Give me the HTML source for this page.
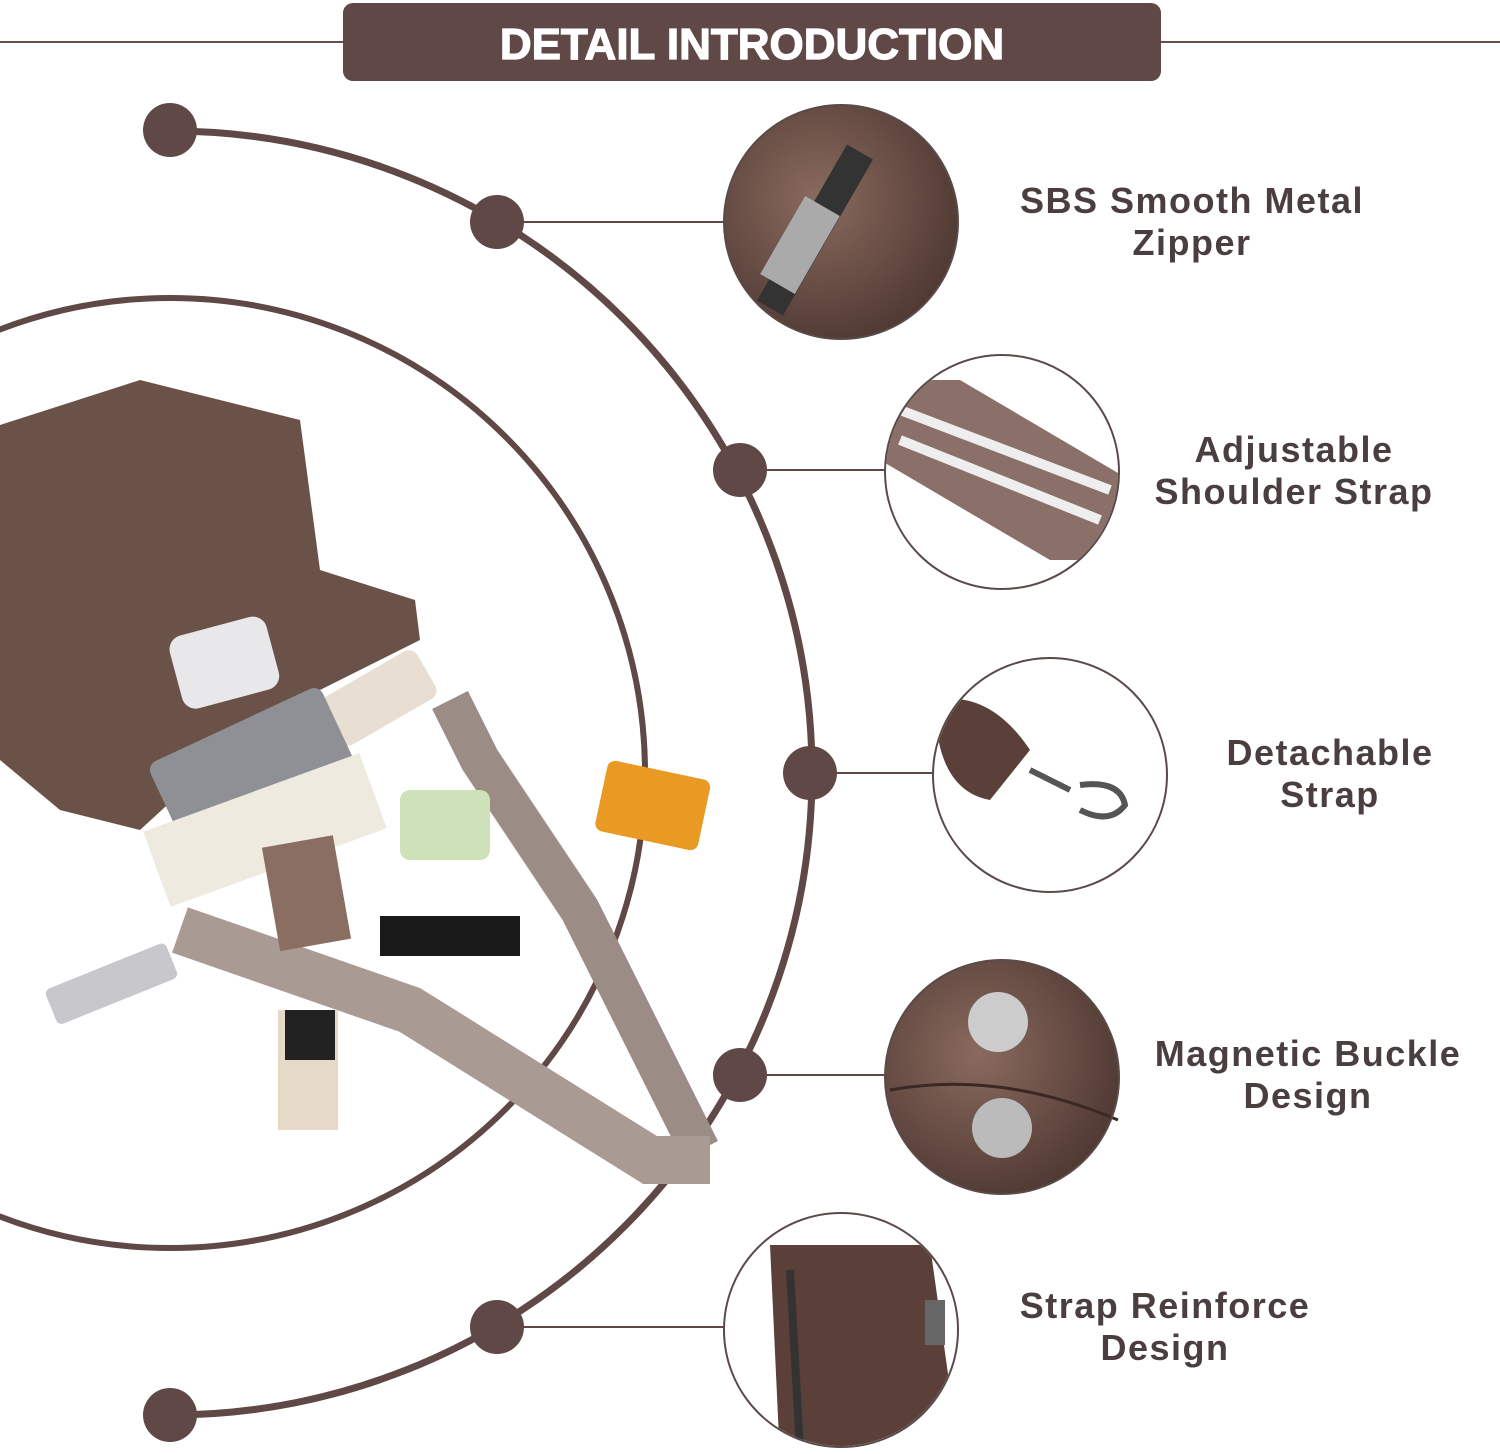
<!DOCTYPE html>
<html><head><meta charset="utf-8"><style>
body{margin:0;width:1500px;height:1454px;background:#fff;overflow:hidden;position:relative;font-family:"Liberation Sans",sans-serif}
.lbl{position:absolute;color:#4a3f3e;font-size:36px;font-weight:bold;letter-spacing:1.5px;text-align:center;line-height:42px;width:420px}
</style></head><body>
<svg width="1500" height="1454" style="position:absolute;left:0;top:0">
<defs>
<radialGradient id="br" cx="40%" cy="40%" r="70%"><stop offset="0" stop-color="#8a6a5e"/><stop offset="1" stop-color="#4a352f"/></radialGradient>
<clipPath id="c1"><circle cx="841" cy="222" r="116"/></clipPath>
<clipPath id="c2"><circle cx="1002" cy="472" r="116"/></clipPath>
<clipPath id="c3"><circle cx="1050" cy="775" r="116"/></clipPath>
<clipPath id="c5"><circle cx="841" cy="1330" r="116"/></clipPath>
</defs>
<line x1="0" y1="42" x2="343" y2="42" stroke="#6a504c" stroke-width="2"/>
<line x1="1160" y1="42" x2="1500" y2="42" stroke="#6a504c" stroke-width="2"/>
<rect x="343" y="3" width="818" height="78" rx="10" fill="#5f4845"/>
<text x="752" y="59" text-anchor="middle" fill="#fff" font-family="Liberation Sans" font-weight="bold" font-size="44" stroke="#fff" stroke-width="1.2">DETAIL INTRODUCTION</text>
<path d="M170 131 A642 642 0 0 1 170 1415" fill="none" stroke="#5f4845" stroke-width="7"/>
<circle cx="170" cy="773" r="475" fill="none" stroke="#5f4845" stroke-width="6"/>
<g stroke="#5f4845" stroke-width="2">
<line x1="497" y1="222" x2="725" y2="222"/><line x1="740" y1="470" x2="885" y2="470"/>
<line x1="810" y1="773" x2="935" y2="773"/><line x1="740" y1="1075" x2="885" y2="1075"/>
<line x1="497" y1="1327" x2="725" y2="1327"/></g>
<g fill="#5f4845">
<circle cx="170" cy="130" r="27"/><circle cx="497" cy="222" r="27"/><circle cx="740" cy="470" r="27"/>
<circle cx="810" cy="773" r="27"/><circle cx="740" cy="1075" r="27"/><circle cx="497" cy="1327" r="27"/><circle cx="170" cy="1415" r="27"/></g>
<circle cx="841" cy="222" r="117" fill="url(#br)"/>
<circle cx="1002" cy="472" r="117" fill="#fff"/>
<circle cx="1050" cy="775" r="117" fill="#fff"/>
<circle cx="1002" cy="1077" r="117" fill="url(#br)"/>
<circle cx="841" cy="1330" r="117" fill="#fff"/>
<g clip-path="url(#c1)"><rect x="800" y="140" width="30" height="180" fill="#333" transform="rotate(30 815 230)"/><rect x="780" y="200" width="40" height="90" fill="#aaa" transform="rotate(30 800 245)"/></g>
<g clip-path="url(#c2)"><path d="M880 380 L960 380 L1130 480 L1120 560 L1050 560 L880 460Z" fill="#8a7068"/><path d="M900 410 L1110 490" stroke="#eee" stroke-width="10"/><path d="M900 440 L1100 520" stroke="#eee" stroke-width="10"/></g>
<g clip-path="url(#c3)"><path d="M935 700 Q990 690 1030 750 L990 800 Q935 790 935 700Z" fill="#5a4038"/><path d="M1030 770 L1070 790 M1080 785 Q1120 780 1125 805 Q1110 825 1080 810" stroke="#555" stroke-width="6" fill="none"/></g>
<circle cx="998" cy="1022" r="30" fill="#ccc"/><circle cx="1002" cy="1128" r="30" fill="#bbb"/>
<path d="M890 1090 Q1000 1070 1118 1120" stroke="#3a2824" stroke-width="3" fill="none"/>
<g clip-path="url(#c5)"><path d="M770 1245 L930 1245 L960 1460 L780 1460Z" fill="#5a4038"/><path d="M790 1270 L800 1450" stroke="#333" stroke-width="8"/><rect x="925" y="1300" width="20" height="45" fill="#666"/></g>
<g stroke="#5a4a48" stroke-width="2" fill="none">
<circle cx="841" cy="222" r="117"/><circle cx="1002" cy="472" r="117"/><circle cx="1050" cy="775" r="117"/><circle cx="1002" cy="1077" r="117"/><circle cx="841" cy="1330" r="117"/></g>
<!-- bag -->
<path d="M0 425 L140 380 L300 420 L320 570 L415 600 L420 640 L300 700 L260 720 L140 830 L60 810 L0 760Z" fill="#6b5248"/>
<rect x="175" y="625" width="100" height="75" rx="14" fill="#e8e8ea" transform="rotate(-15 225 665)"/>
<rect x="325" y="670" width="110" height="55" rx="10" fill="#e8dfd2" transform="rotate(-30 380 700)"/>
<rect x="150" y="720" width="190" height="90" rx="10" fill="#8e9096" transform="rotate(-25 250 750)"/>
<rect x="150" y="790" width="230" height="80" fill="#eeeae0" transform="rotate(-20 265 830)"/>
<polyline points="450,700 480,760 580,910 700,1150" fill="none" stroke="#9c8c86" stroke-width="40"/>
<polyline points="180,930 410,1010 650,1160 710,1160" fill="none" stroke="#a99a94" stroke-width="48"/>
<rect x="600" y="770" width="105" height="72" rx="8" fill="#e89a22" transform="rotate(12 655 807)"/>
<rect x="400" y="790" width="90" height="70" rx="10" fill="#cfe1b8"/>
<rect x="380" y="916" width="140" height="40" fill="#1a1a1a"/>
<rect x="270" y="840" width="72" height="105" fill="#8a6e62" transform="rotate(-10 310 890)"/>
<rect x="45" y="965" width="130" height="38" rx="6" fill="#c8c8cc" transform="rotate(-22 110 980)"/>
<rect x="278" y="1010" width="60" height="120" fill="#e6d9c8"/>
<rect x="285" y="1010" width="50" height="50" fill="#222"/>
</svg>
<div class="lbl" style="left:982px;top:180px">SBS Smooth Metal<br>Zipper</div>
<div class="lbl" style="left:1084px;top:429px">Adjustable<br>Shoulder Strap</div>
<div class="lbl" style="left:1120px;top:732px">Detachable<br>Strap</div>
<div class="lbl" style="left:1098px;top:1033px">Magnetic Buckle<br>Design</div>
<div class="lbl" style="left:955px;top:1285px">Strap Reinforce<br>Design</div>
</body></html>
